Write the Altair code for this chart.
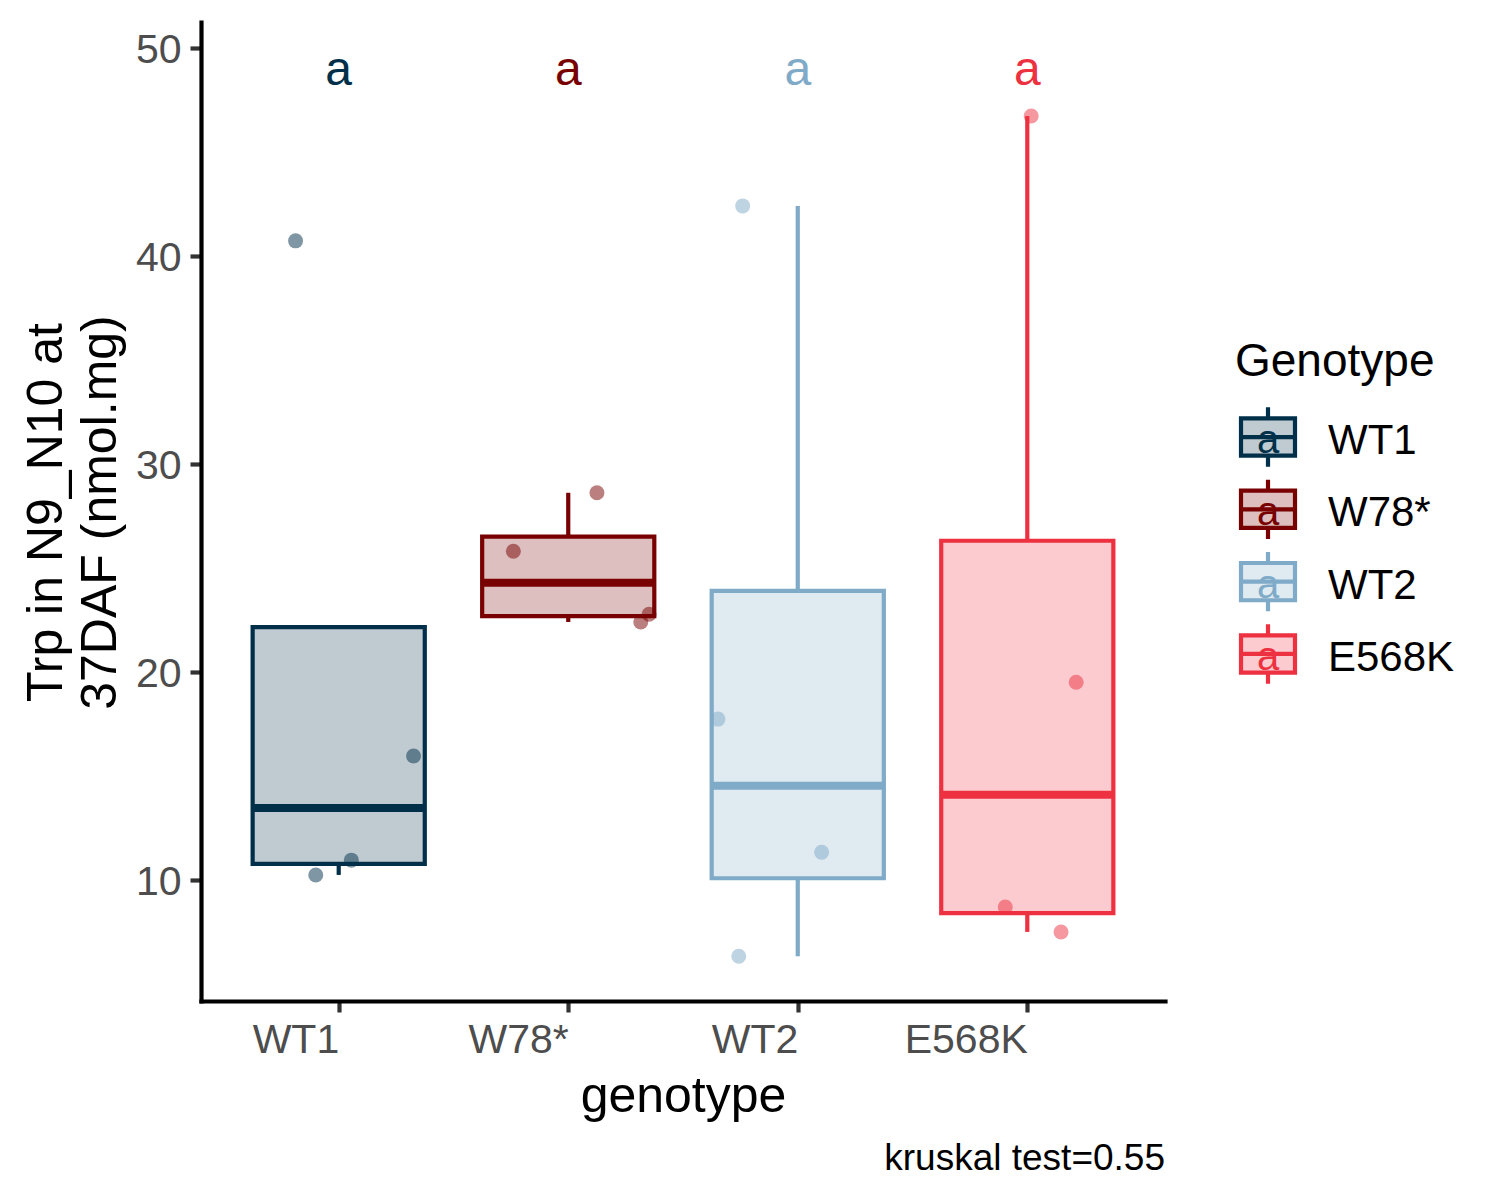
import json
import numpy as np
import pandas as pd
import altair as alt

# ---------------- data ----------------
genotypes = ["WT1", "W78*", "WT2", "E568K"]
colors = ["#003049", "#780000", "#7FAAC8", "#EE3140"]

trp_wt1 = [40.72, 15.96, 10.95, 10.24]
trp_w78 = [28.61, 25.80, 22.40, 22.77]
trp_wt2 = [42.40, 17.73, 11.33, 6.33]
trp_e568k = [46.72, 19.50, 8.70, 7.50]

# horizontal jitter of each point (in category units)
jitter_wt1 = [-0.188, 0.326, 0.055, -0.100]
jitter_w78 = [0.125, -0.239, 0.316, 0.352]
jitter_wt2 = [-0.240, -0.348, 0.104, -0.257]
jitter_e568k = [0.017, 0.213, -0.096, 0.147]

letters = ["a", "a", "a", "a"]
letter_height = 48.2
kruskal_p = 0.55

y_title = ["Trp in N9_N10 at", "37DAF (nmol.mg)"]
x_title = "genotype"
legend_title = "Genotype"
y_ticks = [10, 20, 30, 40, 50]

# ---------------- tables ----------------
FONT = "Liberation Sans"
BOX_HALF = 0.375
LW = 4.2

values = [trp_wt1, trp_w78, trp_wt2, trp_e568k]
jitters = [jitter_wt1, jitter_w78, jitter_wt2, jitter_e568k]

pt_rows = []
for i, (g, vals, jits) in enumerate(zip(genotypes, values, jitters), start=1):
    for v, j in zip(vals, jits):
        pt_rows.append({"genotype": g, "xj": i + j, "trp": v})
points = pd.DataFrame(pt_rows)

st_rows = []
for i, (g, vals) in enumerate(zip(genotypes, values), start=1):
    v = np.array(vals)
    q1, med, q3 = np.quantile(v, [0.25, 0.5, 0.75])
    iqr = q3 - q1
    lo = v[v >= q1 - 1.5 * iqr].min()
    hi = v[v <= q3 + 1.5 * iqr].max()
    st_rows.append({
        "genotype": g, "pos": i, "x1": i - BOX_HALF, "x2": i + BOX_HALF,
        "q1": q1, "med": med, "q3": q3,
        "lo": min(lo, q1), "hi": max(hi, q3),
        "label": letters[i - 1], "ly": letter_height,
    })
stats = pd.DataFrame(st_rows)

# ---------------- scales / axes ----------------
xscale = alt.Scale(domain=[0.4, 4.6], nice=False, zero=False)
yscale = alt.Scale(domain=[4.18, 51.24], nice=False, zero=False)
cscale = alt.Scale(domain=genotypes, range=colors)

x_axis = alt.Axis(
    values=[1, 2, 3, 4],
    labelExpr=f"{json.dumps(genotypes)}[datum.value - 1]",
    labelAlign="right", labelPadding=8,
    titleBaseline="alphabetic", titleY=110,
)
y_axis = alt.Axis(
    values=y_ticks, labelPadding=9, labelOffset=2.5,
    titleBaseline="alphabetic", titleAlign="center",
    titleX=-140, titleY=490, titleLineHeight=54,
)


def X(field):
    return alt.X(field, type="quantitative", scale=xscale, axis=x_axis, title=x_title)


def Y(field):
    return alt.Y(field, type="quantitative", scale=yscale, axis=y_axis, title=y_title)


col_stroke = alt.Stroke("genotype:N", scale=cscale, legend=None)
col_fill = alt.Fill("genotype:N", scale=cscale, legend=None)
col_color = alt.Color("genotype:N", scale=cscale, legend=None)

base = alt.Chart(stats)

whisk_hi = base.mark_rule(strokeWidth=LW).encode(
    x=X("pos"), y=Y("q3"), y2="hi:Q", stroke=col_stroke)
whisk_lo = base.mark_rule(strokeWidth=LW).encode(
    x=X("pos"), y=Y("lo"), y2="q1:Q", stroke=col_stroke)
box = base.mark_rect(fillOpacity=0.25, strokeWidth=LW).encode(
    x=X("x1"), x2="x2:Q", y=Y("q1"), y2="q3:Q", fill=col_fill, stroke=col_stroke)
median = base.mark_rule(strokeWidth=8).encode(
    x=X("x1"), x2="x2:Q", y=Y("med"), stroke=col_stroke)
dots = alt.Chart(points).mark_circle(size=225, opacity=0.5).encode(
    x=X("xj"), y=Y("trp"), color=col_color)
lets = base.mark_text(fontSize=48, font=FONT, baseline="alphabetic", align="center").encode(
    x=X("pos"), y=Y("ly"), text="label:N", color=col_color)

main = alt.layer(whisk_hi, whisk_lo, box, median, dots, lets).properties(
    width=964, height=979,
    title=alt.TitleParams(
        f"kruskal test={kruskal_p}", orient="bottom", anchor="end",
        fontSize=37, font=FONT, fontWeight="normal", color="black", offset=20),
)

# ---------------- legend panel ----------------
leg = pd.DataFrame({"genotype": genotypes, "row": [1, 2, 3, 4], "label": letters})
leg_title = pd.DataFrame({"row": [0.156], "t": [legend_title]})
ly = alt.Y("row:Q", scale=alt.Scale(domain=[-4.74, 8.80], reverse=True, nice=False, zero=False),
           axis=None)

BOX_PATH = "M-1,-0.69H1V0.69H-1Z"
LINES_PATH = "M0,-1.1V-0.69M0,0.69V1.1M-1,0H1"
GLYPH_X = 40
LABEL_X = 100

lbase = alt.Chart(leg)
g_box = lbase.mark_point(shape=BOX_PATH, size=2916, filled=True, fillOpacity=0.25,
                         strokeWidth=LW, opacity=1).encode(
    x=alt.value(GLYPH_X), y=ly, fill=col_fill, stroke=col_stroke)
g_lines = lbase.mark_point(shape=LINES_PATH, size=2916, filled=False,
                           strokeWidth=LW, opacity=1).encode(
    x=alt.value(GLYPH_X), y=ly, stroke=col_stroke)
g_let = lbase.mark_text(fontSize=40, font=FONT, baseline="middle", dy=4, align="center").encode(
    x=alt.value(GLYPH_X), y=ly, text="label:N", color=col_color)
g_lab = lbase.mark_text(fontSize=42, font=FONT, baseline="middle", dy=4, align="left",
                        color="black").encode(
    x=alt.value(LABEL_X), y=ly, text="genotype:N")
g_title = alt.Chart(leg_title).mark_text(fontSize=46, font=FONT, baseline="alphabetic",
                                         align="left", color="black").encode(
    x=alt.value(7), y=ly, text="t:N")

legend = alt.layer(g_box, g_lines, g_let, g_lab, g_title).properties(width=230, height=979)

chart = alt.hconcat(main, legend, spacing=63,
                    padding={"left": 13, "top": 14, "right": 5, "bottom": 5}).configure(
    font=FONT
).configure_view(stroke=None).configure_axis(
    domainColor="black", domainWidth=LW, domainCap="square",
    tickColor="#333333", tickWidth=LW, tickSize=11,
    labelColor="#4D4D4D", labelFontSize=41, labelFont=FONT,
    titleFont=FONT, titleFontSize=50, titleFontWeight="normal", titleColor="black",
    grid=False,
)

chart.save("out.html", embed_options={"renderer": "svg", "actions": False})
